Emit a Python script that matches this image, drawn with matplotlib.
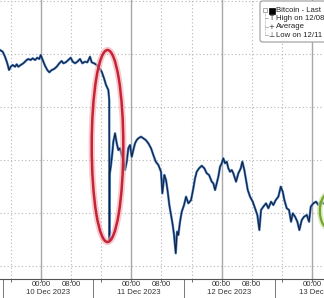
import matplotlib.pyplot as plt
from matplotlib.patches import Ellipse, FancyBboxPatch, Rectangle

# hours since 10 Dec 2023 00:00 and Bitcoin last price (USD)
hours = [-10.90, -10.18, -9.57, -8.96, -8.50, -8.05, -7.52, -6.91, -6.46, -6.03, -5.40, -4.70,
         -4.25, -3.80, -3.38, -2.74, -2.21, -1.59, -0.98, -0.45, -0.08, 0.45, 1.06, 1.67, 2.21,
         2.84, 3.46, 4.17, 4.86, 5.50, 5.93, 6.56, 7.26, 7.89, 8.43, 9.04, 9.65, 10.37, 10.98,
         11.69, 12.31, 13.02, 13.47, 14.09, 14.80, 15.49, 16.13, 16.74, 17.28, 17.89, 18.13,
         18.15, 18.18, 18.23, 18.60, 18.95, 19.22, 19.67, 20.12, 20.54, 21.00, 21.45, 21.87,
         22.33, 22.78, 23.20, 23.65, 24.11, 24.53, 24.98, 25.43, 25.86, 26.58, 27.19, 27.83,
         28.52, 29.24, 29.85, 30.49, 31.18, 31.89, 32.24, 32.77, 33.22, 33.67, 34.10, 34.55,
         35.00, 35.35, 35.80, 36.15, 36.49, 36.94, 37.40, 38.01, 38.54, 39.15, 39.87, 40.48,
         40.93, 41.38, 41.99, 42.71, 43.40, 44.04, 44.65, 45.37, 45.79, 46.25, 46.70, 47.12,
         47.58, 48.03, 48.45, 48.90, 49.36, 49.78, 50.23, 50.68, 51.11, 51.83, 52.44, 53.08,
         53.50, 54.03, 54.48, 54.94, 55.55, 56.27, 56.88, 57.49, 58.02, 58.47, 59.08, 59.80,
         60.41, 61.13, 61.74, 62.38, 63.07, 63.71, 64.24, 64.67, 65.30, 65.91, 66.45, 66.90,
         67.51, 68.12, 68.65, 69.29, 69.90, 70.62, 71.23, 71.68, 72.37, 73.09, 73.70, 74.34,
         75.03, 75.48]
price = [44075, 44043, 43949, 43825, 43698, 43760, 43793, 43760, 43806, 43760, 43793, 43825,
         43855, 43887, 43906, 43887, 43919, 43887, 43930, 43906, 43981, 43887, 43779, 43698,
         43655, 43698, 43717, 43760, 43825, 43868, 43825, 43843, 43887, 43930, 43855, 43825,
         43855, 43906, 43825, 43855, 43843, 43949, 43843, 43825, 43793, 43730, 43666, 43542,
         43415, 43321, 43132, 42245, 40491, 41717, 41906, 42132, 42345, 42504, 42315, 42189,
         42221, 42094, 42000, 41811, 41968, 42221, 42283, 42062, 42189, 42315, 42377, 42409,
         42440, 42409, 42377, 42315, 42221, 42094, 41968, 41906, 41779, 41372, 41717, 41623,
         41402, 41151, 40962, 40774, 40585, 40240, 40647, 40585, 40836, 41025, 41151, 41308,
         41183, 41245, 41466, 41655, 41779, 41843, 41892, 41843, 41749, 41717, 41591, 41560,
         41434, 41560, 41685, 41874, 41938, 42032, 41938, 41968, 41843, 41779, 41811, 41749,
         41591, 41749, 41843, 41968, 41811, 41623, 41434, 41308, 41213, 41089, 40962, 40679,
         41057, 41119, 41183, 41089, 41213, 41151, 41245, 41308, 41497, 41402, 41245, 41089,
         41057, 40836, 40994, 40930, 40836, 40679, 40868, 40930, 40962, 40836, 41119, 41183,
         41213, 41151, 41213, 41183, 41170]

day_starts = [0, 24, 48, 72]
dotted_hours = [-8, 8, 16, 32, 40, 56, 64]
grid_levels = [40000, 41000, 42000, 43000, 44000, 45000]
day_labels = ['10 Dec 2023', '11 Dec 2023', '12 Dec 2023', '13 Dec 2023']
separators = [-10.1, 13.8, 38.0, 62.2, 86.4]
legend_rows = ['Bitcoin - Last', 'High on 12/08', 'Average', 'Low on 12/11 1']

W, H = 324, 298
XMIN, XMAX = -10.9, 75.2
fig = plt.figure(figsize=(W / 100, H / 100), dpi=100)
ax = fig.add_axes([0, 19 / H, 1, 279 / H])

for s in ['top', 'left', 'right']:
    ax.spines[s].set_visible(False)
ax.spines['bottom'].set_color('#555555')
ax.spines['bottom'].set_linewidth(0.8)
ax.set_yticks([])

dots = (0, (1, 2.2))
for lv in grid_levels:
    ax.axhline(lv, color='#b5b5b5', lw=0.8, ls=dots, zorder=0)
for h in dotted_hours:
    ax.axvline(h, color='#b5b5b5', lw=0.8, ls=dots, zorder=0)
for h in day_starts:
    ax.axvline(h, color='#a8a8a8', lw=1.0, zorder=0)

ax.plot(hours, price, color='#3f82d6', lw=1.7, zorder=2, solid_joinstyle='round')
ax.plot(hours, price, color='#1b1f2e', lw=0.8, zorder=3)

# tick marks and labels
tick_hours = [h + d for d in day_starts for h in (0, 8, 16)] + [-8]
ax.set_xticks(tick_hours)
ax.set_xticklabels([])
ax.tick_params(axis='x', length=2.5, width=0.6, color='#555555')
ax.set_xlim(XMIN, XMAX)
ax.set_ylim(39755, 45019)

tr = ax.get_xaxis_transform()
txt = dict(family='Liberation Sans', fontsize=5.6, color='#333333', ha='center', va='center')
for d in day_starts:
    for off, lab in [(0, '00:00'), (8, '08:00')]:
        if d + off < XMAX:
            ax.text(d + off, -6 / 279, lab, transform=tr, clip_on=False, **txt)
for i, lab in enumerate(day_labels):
    mid = (separators[i] + separators[i + 1]) / 2
    ax.text(mid, -13.5 / 279, lab, transform=tr, clip_on=False, **txt)
for s in separators:
    ax.plot([s, s], [0, -19 / 279], transform=tr, clip_on=False, color='#777777', lw=0.7)

# highlight ellipses
for lw, c, a in [(4.5, '#f2a7b0', 0.6), (1.8, '#c62335', 1.0)]:
    ax.add_patch(Ellipse((17.67, 42264), 8.4, 3623, fill=False, lw=lw, ec=c, alpha=a, zorder=4))
for lw, c, a in [(4.0, '#cfe3a6', 0.7), (1.6, '#74a52c', 1.0)]:
    ax.add_patch(Ellipse((76.5, 41040), 4.8, 660, fill=False, lw=lw, ec=c, alpha=a, zorder=4))

# legend box (cropped at right edge)
def px(x, y):
    return x / W, 1 - y / H

box = FancyBboxPatch(px(260, 42), 80 / W, 41 / H, boxstyle='round,pad=0,rounding_size=0.008',
                     transform=fig.transFigure, fc='white', ec='#9a9a9a', lw=0.8, zorder=10)
fig.patches.append(box)
fig.add_artist(plt.Line2D([265 / W, 265 / W], [1 - 12 / H, 1 - 35 / H], transform=fig.transFigure,
                          color='#999999', lw=0.5, ls=(0, (1, 1)), zorder=11))
for y in (18, 27, 35):
    fig.add_artist(plt.Line2D([265 / W, 268 / W], [1 - y / H, 1 - y / H], transform=fig.transFigure,
                              color='#999999', lw=0.5, zorder=11))
fig.add_artist(Rectangle(px(263, 12), 4 / W, 4 / H, transform=fig.transFigure, fc='white',
                         ec='#888888', lw=0.5, zorder=11))
fig.add_artist(Rectangle(px(269, 13.5), 6 / W, 6 / H, transform=fig.transFigure, fc='black',
                         ec='black', lw=0.5, zorder=11))
sym = dict(family='DejaVu Sans', fontsize=5, color='#333333', ha='center', va='center', zorder=12)
fig.text(*px(271, 18), 'T', **sym)
fig.text(*px(271, 27), '+', **sym)
fig.text(*px(271, 35), '\u22a5', **sym)
for i, row in enumerate(legend_rows):
    fig.text(*px(276, 10 + 8.5 * i), row, family='Liberation Sans', fontsize=5.6,
             color='#222222', ha='left', va='center', zorder=12)

fig.savefig('out.png', dpi=100)
